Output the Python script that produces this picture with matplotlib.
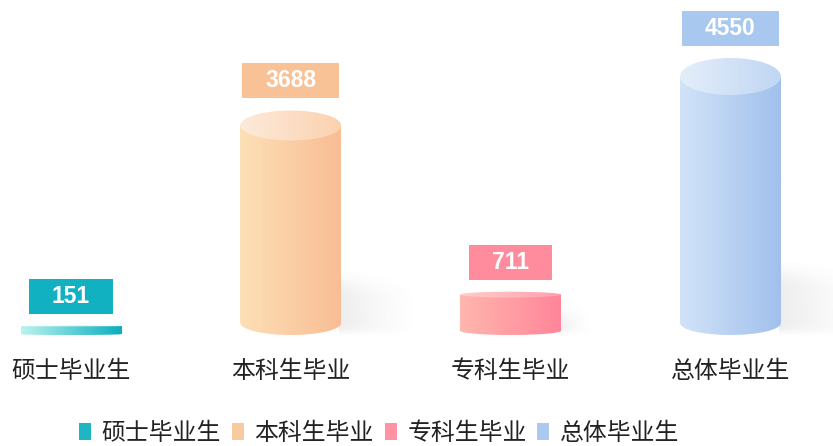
import numpy as np
import matplotlib
matplotlib.use('Agg')
import matplotlib.pyplot as plt
import matplotlib.transforms as mtransforms
from matplotlib.patches import Rectangle, Ellipse, Patch
from matplotlib.colors import to_rgb

# data
categories = ['硕士毕业生', '本科生毕业', '专科生毕业', '总体毕业生']
values = [151, 3688, 711, 4550]

# colours (left -> right of each cylinder)
body_left = ['#b8f4ef', '#fde0b6', '#ffb6ae', '#d2e3f8']
body_right = ['#0daebf', '#f9bd95', '#ff8699', '#a1c0ec']
top_left = ['#c8f6f2', '#fdeada', '#ffcdc8', '#e4eefb']
top_right = ['#40c4d0', '#fbd2b0', '#ffa2ad', '#c0d6f2']
box_colors = ['#12b1c2', '#f9c196', '#ff8c9c', '#a9c8ef']
legend_colors = ['#1fb6c4', '#f9c9a0', '#ff93a2', '#adc9ef']

plt.rcParams['font.family'] = ['Noto Sans CJK SC', 'DejaVu Sans']


def hgrad(c1, c2, n=80):
    a = np.linspace(0, 1, n)[None, :, None]
    return (1 - a) * np.array(to_rgb(c1)) + a * np.array(to_rgb(c2))


def shadow_img(w_px, h_px, slope=0.12, soft=5.0, a0=0.13):
    nx, ny = int(w_px) + 1, int(h_px) + 12
    gx = np.arange(nx)[None, :]
    gy = np.arange(ny)[:, None]
    top = h_px - slope * gx
    a = a0 * (1 - gx / nx) ** 1.3
    a = a / (1 + np.exp((gy - top) / soft))
    a = a / (1 + np.exp(-(gy - 3) / 2.0))
    img = np.zeros((ny, nx, 4))
    img[..., :3] = 0.45
    img[..., 3] = a
    return img, ny


W, H = 833, 446
base_px = 335
px_per_unit = 277 / 4550
u = 1 / px_per_unit          # data units per pixel
x_px = 219.8                 # pixels per category step

fig = plt.figure(figsize=(W / 100, H / 100), dpi=100)
ax = fig.add_axes([0, (H - base_px) / H, 1, base_px / H])
x0 = -71 / x_px
bw = 101 / x_px

for i, v in enumerate(values):
    x = i
    bar_px = v * px_per_unit
    th = 37 * v / max(values)            # top face height, px
    bh = 24 * min(1, v / 2000)           # bottom curve height, px
    yb = bh * u / 2
    yt = v - th * u / 2
    ext = (x - bw / 2, x + bw / 2, 0, v)

    # soft shadow on the right
    if v > 300:
        sw = 20 + 0.25 * bar_px
        sh = 12 + 0.18 * bar_px
        img, ny = shadow_img(sw, sh)
        ax.imshow(img, extent=(x + bw / 2 - 2 / x_px, x + bw / 2 + sw / x_px, 0, ny * u),
                  origin='lower', aspect='auto', interpolation='bilinear', zorder=1)

    body = Rectangle((x - bw / 2, yb), bw, max(yt - yb, 0), facecolor='none', edgecolor='none')
    bottom = Ellipse((x, yb), bw, bh * u, facecolor='none', edgecolor='none')
    for clip in (body, bottom):
        ax.add_patch(clip)
        im = ax.imshow(hgrad(body_left[i], body_right[i]), extent=ext, origin='lower',
                       aspect='auto', interpolation='bilinear', zorder=2)
        im.set_clip_path(clip)

    top = Ellipse((x, yt), bw, th * u, facecolor='none', edgecolor='none')
    ax.add_patch(top)
    im = ax.imshow(hgrad(top_left[i], top_right[i]), extent=ext, origin='lower',
                   aspect='auto', interpolation='bilinear', zorder=3)
    im.set_clip_path(top)

ax.set_xlim(x0, x0 + W / x_px)
ax.set_ylim(0, base_px * u)

# value boxes above each cylinder
renderer = fig.canvas.get_renderer()
for i, v in enumerate(values):
    px, py = ax.transData.transform((i, v))
    t = ax.text(px, py + 12 + 17.5, str(v), transform=mtransforms.IdentityTransform(),
                ha='center', va='center', color='white', fontsize=16.5, fontweight='bold',
                family=['Liberation Sans', 'DejaVu Sans'], zorder=6)
    tw = t.get_window_extent(renderer=renderer).width
    box_w = tw + 46
    ax.add_patch(Rectangle((px - box_w / 2, py + 12), box_w, 35, facecolor=box_colors[i],
                           edgecolor='none', transform=mtransforms.IdentityTransform(),
                           zorder=5))

ax.set_xticks(range(len(categories)), categories)
ax.tick_params(axis='x', length=0, pad=18, labelsize=17.2, colors='#222222')
ax.set_yticks([])
for s in ax.spines.values():
    s.set_visible(False)

handles = [Patch(facecolor=c, edgecolor='none') for c in legend_colors]
fig.legend(handles, categories, loc='center left', bbox_to_anchor=(79 / W, 13 / H),
           ncol=4, frameon=False, fontsize=17.2, handlelength=0.5, handleheight=0.7,
           handletextpad=0.45, columnspacing=0.45, borderpad=0, borderaxespad=0,
           labelcolor='#222222')

fig.savefig('out.png', dpi=100)
